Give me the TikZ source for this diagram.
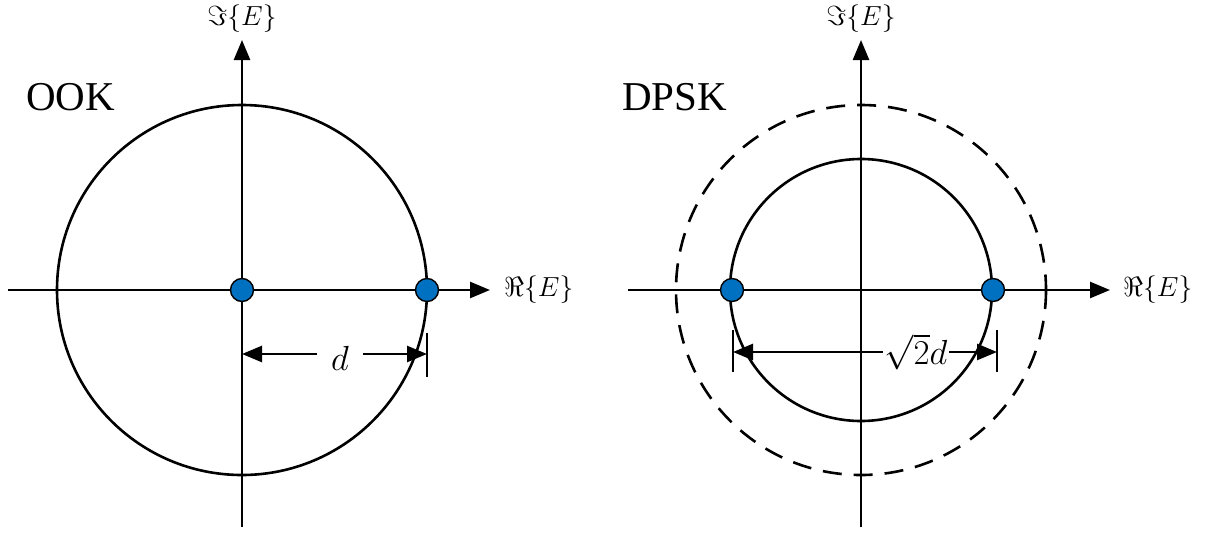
\documentclass[tikz,border=0pt]{standalone}
\usepackage{graphicx}
\usepackage{fontspec}
\newfontfamily\timesfont{Liberation Serif}
\usetikzlibrary{arrows.meta}
\newcommand{\axlabel}[1]{\scalebox{1.33}{\fontsize{20.74}{24}\selectfont$#1$}}
\newcommand{\dimlabel}[1]{\scalebox{1.4}{\fontsize{24.88}{28}\selectfont$#1$}}
\tikzset{
  ax/.style={line width=2.6pt,-{Triangle[length=20pt,width=16pt]}},
  circ/.style={line width=2.6pt},
  dimline/.style={line width=2.6pt,{Triangle[length=20pt,width=16pt]}-{Triangle[length=20pt,width=16pt]}},
  tick/.style={line width=2.6pt},
  pt/.style={circle,fill={rgb,255:red,0;green,112;blue,192},draw=black,line width=1.4pt,minimum size=23pt,inner sep=0pt},
  lab/.style={inner sep=1pt},
  dlab/.style={inner sep=1pt,fill=white},
  title/.style={font=\timesfont\fontsize{41}{44}\selectfont,inner sep=0pt}
}
\begin{document}
\begin{tikzpicture}[x=1pt,y=-1pt]
\useasboundingbox (0,0) rectangle (1209,533);
% ---------- left: OOK ----------
\coordinate (L0) at (242,290);
\coordinate (Lxs) at (8,290);
\coordinate (Lxe) at (490,290);
\coordinate (Lys) at (242,527);
\coordinate (Lye) at (242,40);
\draw[circ] (L0) circle[radius=185];
\draw[ax] (Lxs) -- (Lxe);
\draw[ax] (Lys) -- (Lye);
\node[lab,anchor=west] (Lre) at (503,290) {\axlabel{\Re\{E\}}};
\node[lab] (Lim) at (242,19) {\axlabel{\Im\{E\}}};
\node[title,anchor=west] (ook) at (26,97) {OOK};
\coordinate (Lta) at (427,333);
\coordinate (Ltb) at (427,377);
\draw[tick] (Lta) -- (Ltb);
\coordinate (Lda) at (242,354);
\coordinate (Ldb) at (427,354);
\draw[dimline] (Lda) -- (Ldb);
\node[dlab,inner xsep=14pt] (dl) at (340,358) {\dimlabel{d}};
\node[pt] (p1) at (L0) {};
\node[pt] (p2) at (427,290) {};
% ---------- right: DPSK ----------
\coordinate (R0) at (861,290);
\coordinate (Rxs) at (628,290);
\coordinate (Rxe) at (1110,290);
\coordinate (Rys) at (861,527);
\coordinate (Rye) at (861,40);
\draw[circ,dash pattern=on 19pt off 12pt] (R0) circle[radius=185];
\draw[circ] (R0) circle[radius=131];
\draw[ax] (Rxs) -- (Rxe);
\draw[ax] (Rys) -- (Rye);
\node[lab,anchor=west] (Rre) at (1122,290) {\axlabel{\Re\{E\}}};
\node[lab] (Rim) at (861,19) {\axlabel{\Im\{E\}}};
\node[title,anchor=west] (dpsk) at (622,97) {DPSK};
\coordinate (Rt1a) at (733,330);
\coordinate (Rt1b) at (733,372);
\coordinate (Rt2a) at (997,330);
\coordinate (Rt2b) at (997,372);
\draw[tick] (Rt1a) -- (Rt1b);
\draw[tick] (Rt2a) -- (Rt2b);
\coordinate (Rda) at (733,352);
\coordinate (Rdb) at (997,352);
\draw[dimline] (Rda) -- (Rdb);
\node[dlab,inner xsep=2pt] (sl) at (916,352) {\dimlabel{\sqrt{2}d}};
\node[pt] (p3) at (732,290) {};
\node[pt] (p4) at (993,290) {};
\end{tikzpicture}
\end{document}
